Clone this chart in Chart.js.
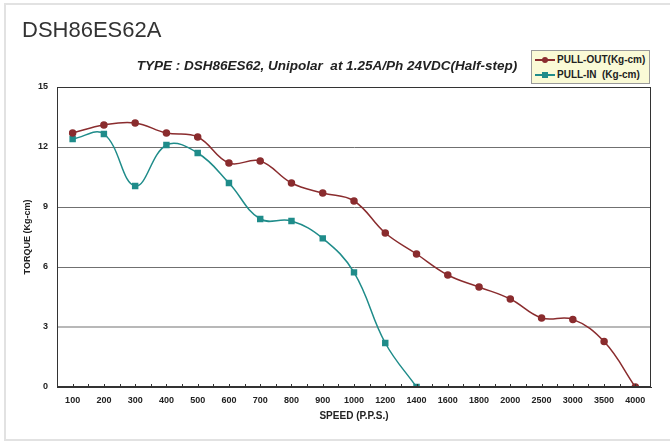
<!DOCTYPE html>
<html>
<head>
<meta charset="utf-8">
<script src="https://cdn.jsdelivr.net/npm/chart.js@4/dist/chart.umd.min.js"></script>
<style>
  html, body { margin: 0; padding: 0; background: #fff; }
  body { width: 670px; height: 441px; position: relative; overflow: hidden; font-family: "Liberation Sans", Arial, sans-serif; }
  #frame { position: absolute; left: 4px; top: 3px; width: 680px; height: 434px; border: 2px solid #e2e2e2; border-right: none; }
  #title { position: absolute; left: 22px; top: 19px; font-size: 22px; line-height: 22px; color: #333; }
  #subtitle { position: absolute; left: 0; width: 654px; top: 58px; text-align: center; font-size: 13.5px; font-weight: bold; font-style: italic; color: #222; }
  #legend { position: absolute; left: 531px; top: 50px; width: 117px; height: 31px; background: #fafad6; border: 1px solid #9a9a9a; padding-top: 1px; }
  .row { height: 15px; display: flex; align-items: center; font-size: 10px; font-weight: bold; color: #222; white-space: pre; }
  .mk { position: relative; width: 20px; height: 10px; margin: 0 2px 0 3px; }
  .mk .ln { position: absolute; left: 0; right: 0; top: 4px; height: 2px; }
  .mk .pt { position: absolute; left: 7px; top: 2px; width: 6px; height: 6px; }
  canvas { position: absolute; left: 0; top: 0; }
</style>
</head>
<body>
<div id="frame"></div>
<canvas id="chart" width="670" height="441"></canvas>
<div id="title">DSH86ES62A</div>
<div id="subtitle">TYPE : DSH86ES62, Unipolar&nbsp; at 1.25A/Ph 24VDC(Half-step)</div>
<div id="legend"></div>
<script>
// データ
const speeds = ['100', '200', '300', '400', '500', '600', '700', '800', '900', '1000',
    '1200', '1400', '1600', '1800', '2000', '2500', '3000', '3500', '4000'];
const pullOut = [12.7, 13.1, 13.2, 12.7, 12.5, 11.2, 11.3, 10.2, 9.7, 9.3,
    7.7, 6.65, 5.6, 5.0, 4.4, 3.45, 3.38, 2.27, 0];
const pullIn = [12.4, 12.65, 10.05, 12.1, 11.7, 10.2, 8.4, 8.3, 7.43, 5.73,
    2.2, 0, null, null, null, null, null, null, null];
const yTicks = [0, 3, 6, 9, 12, 15];

const outColor = '#8a2c2e';
const inColor = '#1f8c8a';

// 枠とX軸の目盛り
const framePlugin = {
    id: 'frame',
    afterDraw(chart) {
        const { ctx, chartArea: a } = chart;
        const x = chart.scales.x;
        ctx.save();
        ctx.strokeStyle = '#333';
        ctx.lineWidth = 1;
        ctx.strokeRect(a.left + 0.5, a.top + 0.5, a.right - a.left - 1, a.bottom - a.top - 1);
        ctx.beginPath();
        const step = x.getPixelForValue(1) - x.getPixelForValue(0);
        speeds.forEach((s, i) => {
            const px = x.getPixelForValue(i);
            [px, px + step / 2].forEach(p => {
                if (p < a.right - 1) {
                    ctx.moveTo(Math.round(p) + 0.5, a.bottom - 3);
                    ctx.lineTo(Math.round(p) + 0.5, a.bottom);
                }
            });
        });
        ctx.stroke();
        ctx.restore();
    }
};

const font = { family: '"Liberation Sans", Arial, sans-serif', size: 9, weight: 'bold' };

const chart = new Chart(document.getElementById('chart'), {
    type: 'line',
    data: {
        labels: speeds,
        datasets: [{
            label: 'PULL-OUT(Kg-cm)',
            data: pullOut,
            borderColor: outColor,
            backgroundColor: outColor,
            borderWidth: 1.5,
            pointStyle: 'circle',
            pointRadius: 3,
            tension: 0.4
        }, {
            label: 'PULL-IN  (Kg-cm)',
            data: pullIn,
            borderColor: inColor,
            backgroundColor: inColor,
            borderWidth: 1.5,
            pointStyle: 'rect',
            pointRadius: 3.5,
            tension: 0.4
        }]
    },
    options: {
        responsive: false,
        animation: false,
        layout: { padding: { top: 87, right: 19, left: 0, bottom: 0 } },
        plugins: { legend: { display: false }, tooltip: { enabled: false } },
        scales: {
            x: {
                offset: true,
                grid: { display: false, drawTicks: false },
                border: { color: '#333', width: 1 },
                ticks: { font, color: '#222', padding: 8, maxRotation: 0, autoSkip: false },
                title: { display: true, text: 'SPEED (P.P.S.)', font: { ...font, size: 10 }, color: '#222', padding: { top: 0, bottom: 19 } },
                afterFit(scale) { scale.height = 54; }
            },
            y: {
                min: 0,
                max: 15,
                afterBuildTicks(scale) { scale.ticks = yTicks.map(v => ({ value: v })); },
                grid: {
                    drawTicks: false,
                    color: c => c.tick && c.tick.value === 3 ? '#b8b8b8' : '#707070',
                    lineWidth: c => c.tick && c.tick.value === 3 ? 2 : 1
                },
                border: { color: '#333', width: 1 },
                ticks: { font, color: '#222', padding: 9 },
                title: { display: true, text: 'TORQUE (Kg-cm)', font: { ...font, size: 9 }, color: '#222', padding: { top: 22, bottom: 0 } },
                afterFit(scale) { scale.width = 57; }
            }
        }
    },
    plugins: [framePlugin]
});

// 凡例
const legend = document.getElementById('legend');
chart.data.datasets.forEach(ds => {
    const row = document.createElement('div');
    row.className = 'row';
    const round = ds.pointStyle === 'circle' ? 'border-radius:50%;' : '';
    row.innerHTML = `<span class="mk"><span class="ln" style="background:${ds.borderColor}"></span>` +
        `<span class="pt" style="background:${ds.borderColor};${round}"></span></span>${ds.label}`;
    legend.appendChild(row);
});
</script>
</body>
</html>
